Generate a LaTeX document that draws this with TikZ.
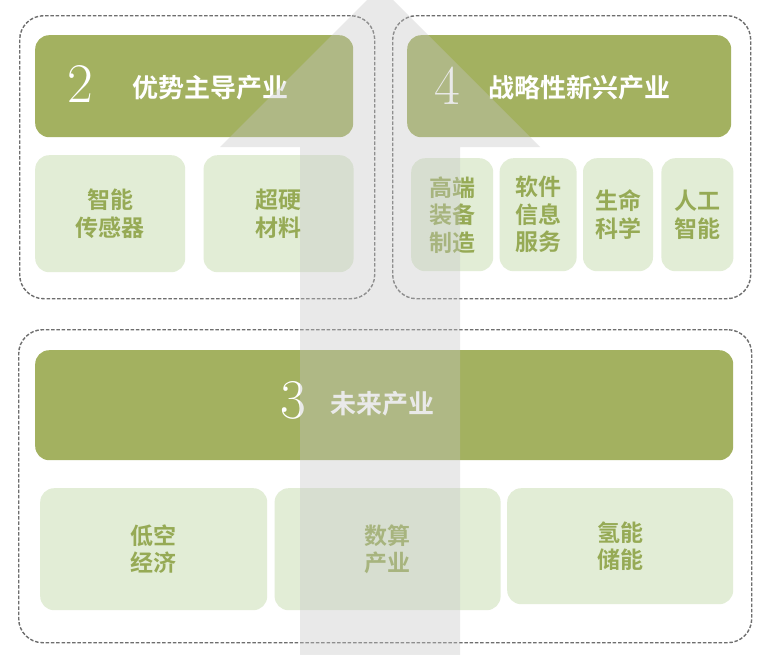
\documentclass[tikz,border=0pt]{standalone}
\usepackage{fontspec}
\newfontfamily\cjk{Noto Sans CJK SC}[BoldFont={Noto Sans CJK SC Bold}]
\usepackage{xcolor}
\usepackage{tikz}
\usetikzlibrary{positioning}

\definecolor{hdrgreen}{RGB}{163,177,96}
\definecolor{itemgreen}{RGB}{226,237,214}
\definecolor{txtgreen}{RGB}{150,170,85}
\definecolor{dashgray}{RGB}{110,110,110}
\definecolor{arrowgray}{RGB}{198,198,198}

\begin{document}
\begin{tikzpicture}[
  x=1pt, y=-1pt,
  groupbox/.style={draw=dashgray, line width=1.4pt, dash pattern=on 3.5pt off 1.8pt, rounded corners=24pt, anchor=north west, inner sep=0pt},
  headbox/.style={fill=hdrgreen, rounded corners=14pt, anchor=north west, inner sep=0pt},
  itembox/.style={fill=itemgreen, rounded corners=14pt, anchor=north west, inner sep=0pt, align=center, text=txtgreen, font=\cjk\bfseries\fontsize{23}{27.5}\selectfont},
  titletext/.style={text=white, anchor=west, inner sep=0pt, font=\cjk\bfseries\fontsize{26}{30}\selectfont},
  numtext/.style={text=white, inner sep=0pt, font=\fontsize{56}{56}\selectfont}
]
\useasboundingbox (0,0) rectangle (765,654);
\clip (0,0) rectangle (765,654);
\fill[white] (0,0) rectangle (765,654);

% dashed groups
\node[groupbox, minimum width=355pt, minimum height=283pt] (g2) at (19,15) {};
\node[groupbox, minimum width=358pt, minimum height=283pt] (g4) at (392,15) {};
\node[groupbox, minimum width=733pt, minimum height=313pt] (g3) at (18,329) {};

% headers
\node[headbox, minimum width=318pt, minimum height=102pt] (h2) at (35,35) {};
\node[headbox, minimum width=324pt, minimum height=102pt] (h4) at (407,35) {};
\node[headbox, minimum width=698pt, minimum height=110pt] (h3) at (35,350) {};

\node[numtext] (n2) at (80,84) {2};
\node[titletext] (t2) at (132,88) {优势主导产业};
\node[numtext] (n4) at (447,86) {4};
\node[titletext] (t4) at (488,88) {战略性新兴产业};
\node[numtext] (n3) at (293,400) {3};
\node[titletext] (t3) at (330,404) {未来产业};

% items, group 2
\node[itembox, minimum width=150pt, minimum height=117pt] (sensor) at (35,155) {智能\\传感器};
\node[itembox, minimum width=150pt, minimum height=117pt, right=18pt of sensor] (hard) {超硬\\材料};

% items, group 4
\node[itembox, minimum width=82pt, minimum height=113pt] (equip) at (411,158) {高端\\装备\\制造};
\node[itembox, minimum width=77pt, minimum height=113pt, right=6pt of equip] (soft) {软件\\信息\\服务};
\node[itembox, minimum width=70pt, minimum height=113pt, right=6pt of soft] (life) {生命\\科学};
\node[itembox, minimum width=72pt, minimum height=113pt, right=8pt of life] (ai) {人工\\智能};

% items, group 3
\node[itembox, minimum width=227pt, minimum height=122pt] (air) at (40,488) {低空\\经济};
\node[itembox, minimum width=226pt, minimum height=122pt, right=7pt of air] (comp) {数算\\产业};
\node[itembox, minimum width=226pt, minimum height=116pt, anchor=north west] (hydro) at (507,488) {氢能\\储能};

% big arrow on top
\fill[arrowgray, opacity=0.37] (300,660) -- (300,147) -- (220,147) -- (380,-13)
  -- (540,147) -- (460,147) -- (460,660) -- cycle;
\end{tikzpicture}
\end{document}
